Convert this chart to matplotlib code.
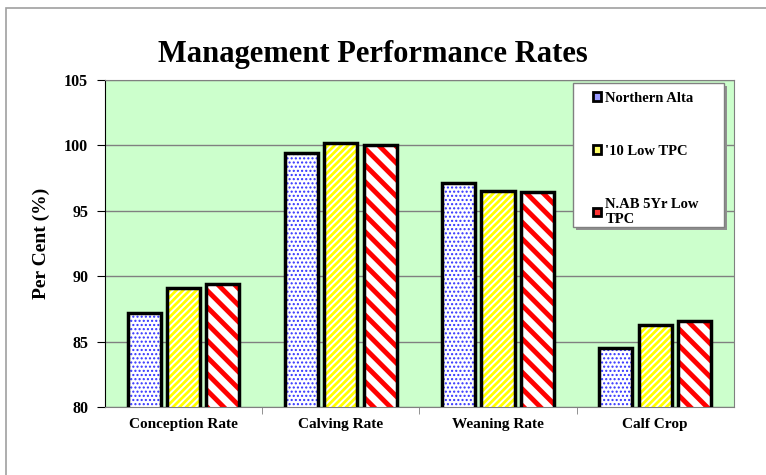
import matplotlib.pyplot as plt
import matplotlib.patches as mpatches
import numpy as np

plt.rcParams['font.family'] = ['Liberation Serif', 'DejaVu Serif']
plt.rcParams['font.weight'] = 'bold'

categories = ["Conception Rate", "Calving Rate", "Weaning Rate", "Calf Crop"]
series_names = ["Northern Alta", "'10 Low TPC", "N.AB 5Yr Low\nTPC"]
northern_alta = [87.2, 99.4, 97.1, 84.5]
low_tpc_10 = [89.1, 100.2, 96.5, 86.3]
nab_5yr = [89.4, 100.0, 96.4, 86.6]

colors = ["#3333ff", "#ffff00", "#ff0000"]
hatches = ["....", "/////", "\\\\"]
hatch_widths = [1.0, 2.0, 3.5]
legend_fill = ["#9999ff", "#ffff66", "#ff3333"]

fig = plt.figure(figsize=(7.66, 4.75), dpi=100)
ax = fig.add_axes([0.137, 0.143, 0.821, 0.689])
ax.set_facecolor("#ccffcc")

# outer frame of the chart area
fig.patches.append(mpatches.Rectangle((6 / 766, -0.1), 1.2, 0.983 + 0.1,
                                      transform=fig.transFigure, fill=False,
                                      edgecolor="#a0a0a0", linewidth=1.2))

x = np.arange(len(categories))
width = 0.21
step = 0.25
all_series = [northern_alta, low_tpc_10, nab_5yr]

for i, vals in enumerate(all_series):
    pos = x + (i - 1) * step
    with plt.rc_context({'hatch.linewidth': hatch_widths[i]}):
        ax.bar(pos, vals, width, bottom=0, color="white", edgecolor=colors[i],
               hatch=hatches[i], linewidth=0, zorder=2)
    ax.bar(pos, vals, width, fill=False, edgecolor="black", linewidth=2.5, zorder=3)

ax.set_ylim(80, 105)
ax.set_xlim(-0.5, 3.5)
ax.set_yticks([80, 85, 90, 95, 100, 105])
ax.yaxis.grid(True, color="#808080", linewidth=1)
ax.set_axisbelow(True)

ax.set_xticks(x)
ax.set_xticklabels(categories, fontsize=11, fontweight="bold")
ax.set_xticks([0.5, 1.5, 2.5], minor=True)
ax.tick_params(axis="x", which="major", length=0, pad=8)
ax.tick_params(axis="x", which="minor", length=5, color="#808080", direction="out")
ax.tick_params(axis="y", length=6, direction="out", labelsize=11.5, pad=6)

for side in ["top", "right", "bottom"]:
    ax.spines[side].set_color("#808080")
ax.spines["left"].set_color("black")

ax.set_ylabel("Per Cent (%)", fontsize=14, fontweight="bold", labelpad=10)
fig.text(0.487, 0.885, "Management Performance Rates", ha="center", va="center",
         fontsize=22, fontweight="bold")

# legend box drawn by hand (wide side padding, shadow)
ax.add_patch(mpatches.Rectangle((0.749, 0.541), 0.240, 0.441, transform=ax.transAxes,
                                facecolor="#909090", edgecolor="none", zorder=5,
                                clip_on=False))
ax.add_patch(mpatches.Rectangle((0.744, 0.550), 0.240, 0.441, transform=ax.transAxes,
                                facecolor="white", edgecolor="#808080", linewidth=1,
                                zorder=6, clip_on=False))

handles = [mpatches.Patch(facecolor=legend_fill[i], edgecolor="black", linewidth=2)
           for i in range(3)]
leg = ax.legend(handles, series_names, loc="upper left",
                bbox_to_anchor=(0.776, 0.963), borderaxespad=0, fontsize=10.5,
                frameon=False, handlelength=0.55, handleheight=0.55,
                handletextpad=0.3, labelspacing=2.75, borderpad=0)
leg.set_zorder(7)
for t in leg.get_texts():
    t.set_fontweight("bold")

fig.savefig("out.png", dpi=100)
